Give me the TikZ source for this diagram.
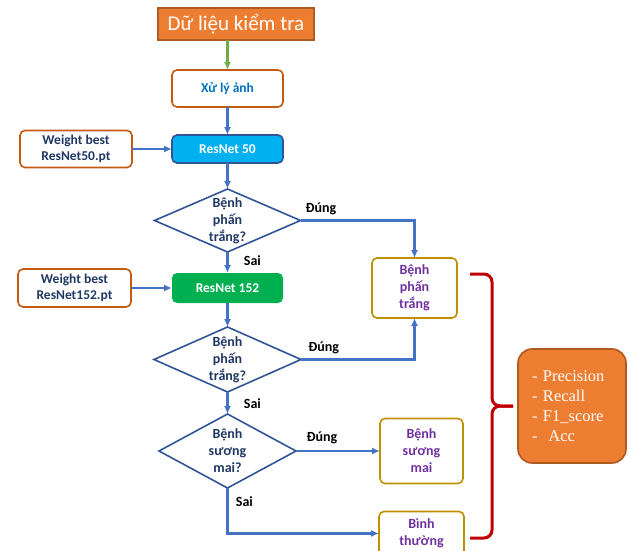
\documentclass[tikz,border=0pt]{standalone}
\usepackage{fontspec}
\setmainfont{Carlito}
\newfontfamily\timesfont{Liberation Serif}
\usetikzlibrary{arrows.meta, positioning, shapes.geometric, calc}
\definecolor{TitleOrange}{HTML}{ED7D31}
\definecolor{DarkOrange}{HTML}{AE5A21}
\definecolor{Rust}{HTML}{C55A11}
\definecolor{Navy}{HTML}{1F3864}
\definecolor{LinkBlue}{HTML}{4472C4}
\definecolor{EdgeBlue}{HTML}{2F5597}
\definecolor{TextBlue}{HTML}{0070C0}
\definecolor{ModelCyan}{HTML}{00B0F0}
\definecolor{LeafGreen}{HTML}{00B050}
\definecolor{ArrowGreen}{HTML}{70AD47}
\definecolor{Gold}{HTML}{BF9000}
\definecolor{ResultPurple}{HTML}{7030A0}
\definecolor{BraceRed}{HTML}{C00000}
\tikzset{
    % Base line width shared by the boxes
    base_width/.style={line width=1.6pt},
    % Common look of all rectangular blocks
    standard_block/.style={
        rectangle,
        rounded corners=5pt,
        base_width,
        align=center,
        inner sep=2pt,
        outer sep=0pt,
        font=\bfseries\fontsize{13.5}{16}\selectfont
    },
    title_block/.style={
        rectangle,
        fill=TitleOrange,
        draw=DarkOrange,
        base_width,
        outer sep=0pt,
        text=white,
        minimum width=156pt,
        minimum height=32pt,
        font=\fontsize{21}{24}\selectfont
    },
    process/.style={
        standard_block,
        draw=Rust,
        text=TextBlue,
        minimum width=111pt,
        minimum height=37pt
    },
    weight/.style={
        standard_block,
        draw=Rust,
        text=Navy,
        minimum width=112pt,
        minimum height=37pt
    },
    model50/.style={
        standard_block,
        fill=ModelCyan,
        draw=EdgeBlue,
        text=white,
        minimum width=111pt,
        minimum height=28pt
    },
    model152/.style={
        standard_block,
        fill=LeafGreen,
        text=white,
        minimum width=111pt,
        minimum height=30pt
    },
    decision/.style={
        diamond,
        draw=EdgeBlue,
        base_width,
        aspect=2.3,
        inner sep=-6pt,
        outer sep=0pt,
        align=center,
        text=Navy,
        font=\bfseries\fontsize{14}{17}\selectfont
    },
    result/.style={
        standard_block,
        draw=Gold,
        text=ResultPurple,
        minimum width=85pt,
        font=\bfseries\fontsize{14}{17}\selectfont
    },
    metrics/.style={
        rectangle,
        rounded corners=14pt,
        fill=TitleOrange,
        draw=DarkOrange,
        base_width,
        outer sep=0pt,
        text=white,
        text width=80pt,
        minimum width=108pt,
        minimum height=114pt,
        align=left,
        font=\timesfont\fontsize{16.5}{20}\selectfont
    },
    arrow/.style={
        -{Latex[length=8pt, width=7pt]},
        draw=LinkBlue,
        line width=2.2pt
    },
    green_arrow/.style={
        arrow,
        draw=ArrowGreen
    },
    brace_line/.style={
        draw=BraceRed,
        line width=3pt,
        rounded corners=8pt
    },
    label_text/.style={
        font=\bfseries\fontsize{14}{16}\selectfont,
        text=black
    }
}
\begin{document}
\begin{tikzpicture}[node distance=28pt and 40pt]
    \useasboundingbox (0,0) rectangle (629pt,-551pt);

    % --- INPUT ---
    \node[title_block] (data) at (236pt,-24pt) {Dữ liệu kiểm tra};
    \node[process, below=30pt of data, xshift=-8.5pt] (preproc) {Xử lý ảnh};

    % --- RESNET50 STAGE ---
    \node[model50, below=28pt of preproc] (resnet50) {ResNet 50};
    \node[weight, left=40pt of resnet50] (weight50) {Weight best\\ResNet50.pt};
    \node[decision, minimum width=146pt, minimum height=63pt, below=26pt of resnet50] (check1) {Bệnh\\phấn\\trắng?};

    % --- RESNET152 STAGE ---
    \node[model152, below=21pt of check1] (resnet152) {ResNet 152};
    \node[weight, minimum width=113pt, minimum height=38pt, left=41pt of resnet152] (weight152) {Weight best\\ResNet152.pt};
    \node[decision, minimum width=147pt, minimum height=65pt, below=24pt of resnet152] (check2) {Bệnh\\phấn\\trắng?};
    \node[decision, aspect=1.85, minimum width=137pt, minimum height=74pt, below=22pt of check2] (check3) {Bệnh\\sương\\mai?};

    % --- RESULTS ---
    \node[result, minimum height=60pt, right=89pt of resnet152] (powdery) {Bệnh\\phấn\\trắng};
    \node[result, minimum width=83pt, minimum height=65pt, right=84pt of check3] (downy) {Bệnh\\sương\\mai};
    \node[result, minimum height=44pt, below=28pt of downy] (healthy) {Bình\\thường};

    % --- EVALUATION ---
    \coordinate (brace_top) at ($(powdery.north east)+(13pt,-16pt)$);
    \coordinate (brace_bot) at ($(brace_top)+(0,-264pt)$);
    \coordinate (brace_mid) at ($(brace_top)!0.5!(brace_bot)+(22pt,0)$);
    \coordinate (brace_tip) at ($(brace_mid)+(21pt,0)$);
    \node[metrics, right=5pt of brace_tip] (scores) {- Precision\\- Recall\\- F1\_score\\-\ \ Acc};

    % --- CONNECTIONS ---
    \draw[green_arrow] (data.south -| preproc.north) -- (preproc.north);
    \draw[arrow] (preproc) -- (resnet50);
    \draw[arrow] (weight50) -- (resnet50);
    \draw[arrow] (resnet50) -- (check1);

    % First check
    \draw[arrow] (check1.east) -| node[label_text, above, pos=0.09, yshift=1pt] {Đúng} (powdery.north);
    \draw[arrow] (check1) -- node[label_text, right, pos=0.4, xshift=12pt] {Sai} (resnet152);

    % Second check
    \draw[arrow] (weight152) -- (resnet152);
    \draw[arrow] (resnet152) -- (check2);
    \draw[arrow] (check2.east) -| node[label_text, above, pos=0.1, yshift=1pt] {Đúng} (powdery.south);
    \draw[arrow] (check2) -- node[label_text, right, pos=0.55, xshift=12pt] {Sai} (check3);

    % Third check
    \draw[arrow] (check3) -- node[label_text, above, pos=0.31, yshift=3pt] {Đúng} (downy);
    \draw[arrow] (check3.south) |- node[label_text, right, pos=0.15, xshift=4pt] {Sai} (healthy.west);

    % Brace towards the scores
    \draw[brace_line] (brace_top) -| (brace_mid) -- (brace_tip);
    \draw[brace_line] (brace_bot) -| (brace_mid) -- (brace_tip);

\end{tikzpicture}
\end{document}
